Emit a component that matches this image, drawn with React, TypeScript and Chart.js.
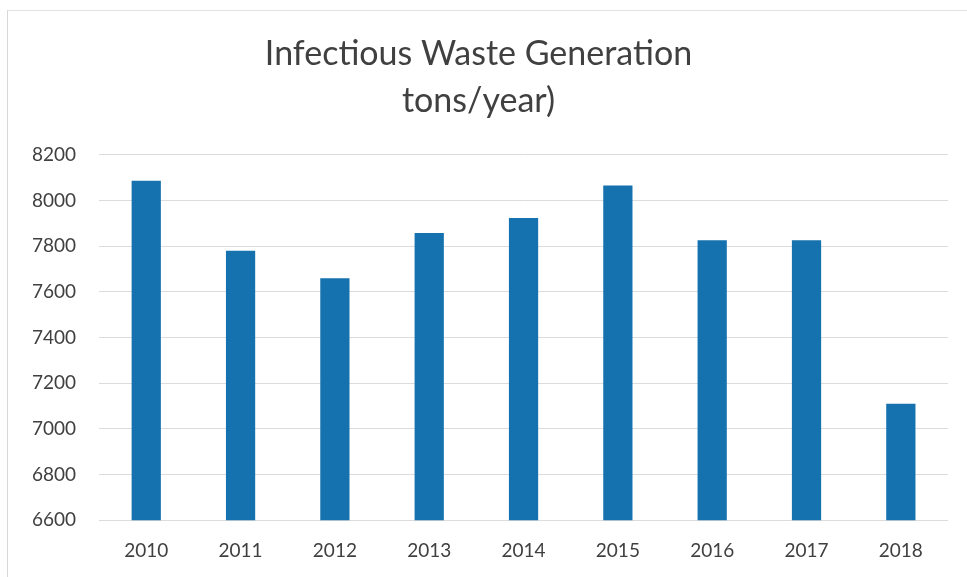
import React, { useEffect, useRef } from "react";
import { Chart, registerables } from "chart.js";

Chart.register(...registerables);

const categories = ["2010", "2011", "2012", "2013", "2014", "2015", "2016", "2017", "2018"];
const wasteTons = [8087, 7780, 7660, 7858, 7923, 8066, 7826, 7826, 7110];
const titleLines = ["Infectious Waste Generation", "tons/year)"];

export default function App() {
  const ref = useRef<HTMLCanvasElement | null>(null);

  useEffect(() => {
    document.body.style.margin = "0";
    const ctx = ref.current;
    if (!ctx) return;
    const chart = new Chart(ctx, {
      type: "bar",
      data: {
        labels: categories,
        datasets: [
          {
            data: wasteTons,
            backgroundColor: "#1572AE",
            categoryPercentage: 1,
            barPercentage: 0.31,
          },
        ],
      },
      options: {
        animation: false,
        responsive: true,
        maintainAspectRatio: false,
        layout: { padding: { left: 9, right: 19, top: 31, bottom: 4 } },
        plugins: {
          legend: { display: false },
          tooltip: { enabled: false },
          title: {
            display: true,
            text: titleLines,
            color: "#404040",
            font: { family: "Lato, sans-serif", size: 34, weight: "normal", lineHeight: 1.38 },
            padding: { top: 0, bottom: 30 },
          },
        },
        scales: {
          x: {
            grid: { display: false },
            border: { display: false },
            ticks: {
              color: "#404040",
              font: { family: "Lato, sans-serif", size: 19 },
              padding: 11,
            },
          },
          y: {
            min: 6600,
            max: 8200,
            grid: { color: "#dcdcdc", lineWidth: 1, drawTicks: false },
            border: { display: false },
            ticks: {
              stepSize: 200,
              color: "#404040",
              font: { family: "Lato, sans-serif", size: 19 },
              padding: 23,
              callback: (v: any) => String(v),
            },
          },
        },
      },
    });
    return () => chart.destroy();
  }, []);

  return (
    <div style={{ position: "relative", width: 967, height: 577, background: "#fff" }}>
      <div
        style={{
          position: "absolute",
          left: 7,
          top: 10,
          right: 0,
          bottom: 0,
          borderLeft: "1px solid #d8d8d8",
          borderTop: "1px solid #e2e2e2",
        }}
      />
      <canvas ref={ref} style={{ position: "absolute", left: 0, top: 0, width: 967, height: 577 }} />
    </div>
  );
}
